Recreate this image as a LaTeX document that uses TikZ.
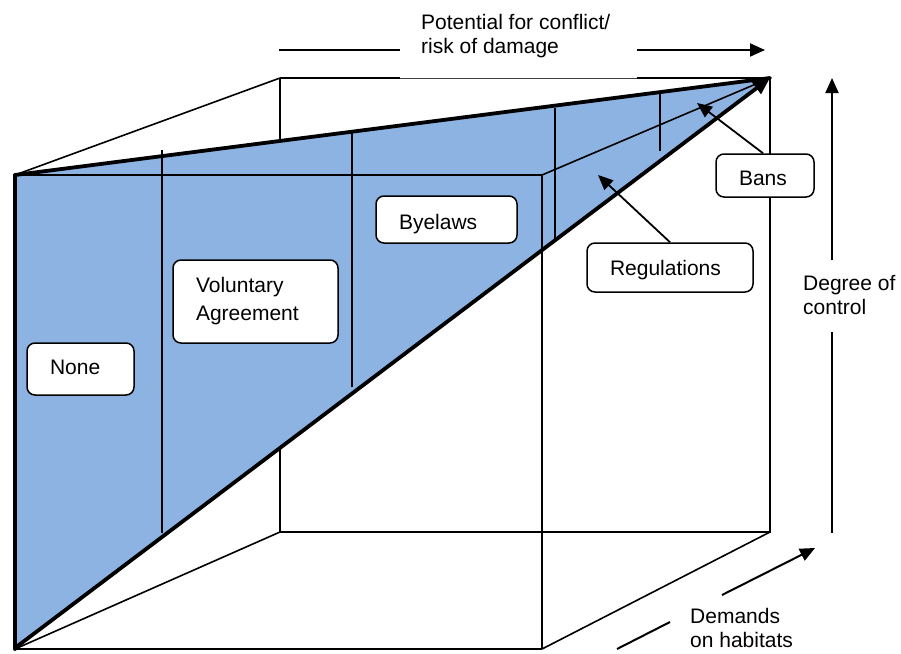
\documentclass[tikz,border=0pt]{standalone}
\usepackage{fontspec}
\setmainfont{Liberation Sans}
\usetikzlibrary{arrows.meta}
\definecolor{wedgeblue}{RGB}{141,179,226}
\begin{document}
\begin{tikzpicture}[x=1pt,y=-1pt,
  thinline/.style={line width=1.6pt},
  thickline/.style={line width=3.8pt},
  tip/.style={-{Triangle[length=15pt,width=13pt]}},
  labelbox/.style={draw,fill=white,rounded corners=8pt,line width=1.5pt,
    inner xsep=23pt,inner ysep=0pt,align=left,
    font=\fontsize{21}{28}\selectfont},
  axislabel/.style={inner sep=0pt,align=left,anchor=west,
    font=\fontsize{21}{24}\selectfont}]
\useasboundingbox (0,0) rectangle (901,653);

% cube corners: front face F, back face B
\coordinate (F1) at (15,175);
\coordinate (F2) at (542,175);
\coordinate (F3) at (542,649);
\coordinate (F4) at (15,649);
\coordinate (B1) at (280,78);
\coordinate (B2) at (770,78);
\coordinate (B3) at (770,532);
\coordinate (B4) at (280,532);

% back face and receding edges (partly hidden by the wedge)
\draw[thinline] (B1) -- (400,78);
\draw[line width=1pt,black!75] (400,78) -- (637,78);
\draw[thinline] (637,78) -- (B2) -- (B3) -- (B4) -- (B1);
\draw[thinline] (F1) -- (B1);
\draw[thinline] (F4) -- (B4);
\draw[thinline] (F3) -- (B3);
\draw[thinline] (F4) -- (F3);

% shaded wedge
\fill[wedgeblue] (15,175) -- (770,78) -- (15,648) -- cycle;

% edges and dividers drawn over the wedge
\draw[thinline] (F1) -- (F2) -- (F3);
\draw[thinline] (F2) -- (B2);
\draw[thinline] (162,150) -- (162,533);
\draw[thinline] (352,132) -- (352,387);
\draw[thinline] (555,108) -- (555,240);
\draw[thinline] (660,91) -- (660,151);

% bold outline of the wedge
\draw[thickline,line cap=round] (15,175) -- (15,649);
\draw[thickline,line cap=round] (15,175) -- (B2);
\draw[thickline,-{Triangle[length=17pt,width=14pt]}] (15,648) -- (B2);

% control level boxes
\node[labelbox,text width=61pt,minimum height=52pt,text height=16pt,text depth=5pt] (none) at (80.5,369) {None};
\node[labelbox,text width=119pt,minimum height=83pt] (vol) at (255.5,301.5) {Voluntary\\Agreement};
\node[labelbox,text width=95pt,minimum height=47pt,text height=22pt,text depth=2pt] (bye) at (446.5,219.5) {Byelaws};
\node[labelbox,text width=120pt,minimum height=49pt,text height=20pt,text depth=4pt] (reg) at (670,267.5) {Regulations};
\node[labelbox,text width=52pt,minimum height=43pt,text height=22pt,text depth=2pt] (bans) at (765,175.5) {Bans};

% pointers from boxes into the wedge
\coordinate (regtip) at (598,175);
\coordinate (banstip) at (697,103);
\draw[line width=1.8pt,tip] (reg.north) -- (regtip);
\draw[line width=1.8pt,tip] (bans.north -| 763,0) -- (banstip);

% axis: potential for conflict
\coordinate (ta1) at (279,50);
\coordinate (ta2) at (400,50);
\coordinate (ta3) at (637,50);
\coordinate (ta4) at (765,50);
\draw[line width=2pt] (ta1) -- (ta2);
\draw[line width=2pt,tip] (ta3) -- (ta4);
\node[axislabel] (pot) at (421,36) {Potential for conflict/\\risk of damage};

% axis: degree of control
\coordinate (ra1) at (832,533);
\coordinate (ra2) at (832,332);
\coordinate (ra3) at (832,260);
\coordinate (ra4) at (832,78);
\draw[line width=2pt] (ra1) -- (ra2);
\draw[line width=2pt,tip] (ra3) -- (ra4);
\node[axislabel] (deg) at (803,295) {Degree of\\control};

% axis: demands on habitats
\coordinate (da1) at (617,649);
\coordinate (da2) at (670,622);
\coordinate (da3) at (722,595);
\coordinate (da4) at (815,548);
\draw[line width=2pt] (da1) -- (da2);
\draw[line width=2pt,tip] (da3) -- (da4);
\node[axislabel] (dem) at (690,628) {Demands\\on habitats};
\end{tikzpicture}
\end{document}
